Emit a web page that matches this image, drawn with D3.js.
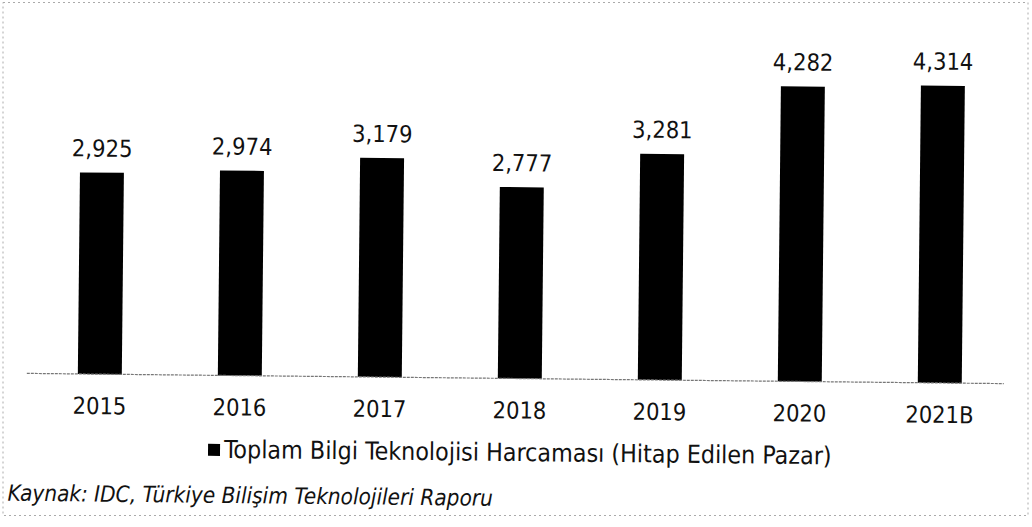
<!DOCTYPE html>
<html>
<head>
<meta charset="utf-8">
<script src="https://cdn.jsdelivr.net/npm/d3@7/dist/d3.min.js"></script>
<style>
  html, body { margin: 0; padding: 0; background: #fff; }
  svg { display: block; }
  text { font-family: "DejaVu Sans Condensed", "DejaVu Sans", sans-serif; font-stretch: condensed; fill: #111; }
</style>
</head>
<body>
<svg id="chart" width="1032" height="527"></svg>
<script>
const categories = ["2015", "2016", "2017", "2018", "2019", "2020", "2021B"];
const values = [2925, 2974, 3179, 2777, 3281, 4282, 4314];
const seriesName = "Toplam Bilgi Teknolojisi Harcaması (Hitap Edilen Pazar)";
const sourceText = "Kaynak: IDC, Türkiye Bilişim Teknolojileri Raporu";

const W = 1032, H = 527;
const svg = d3.select("#chart");
svg.append("rect").attr("width", W).attr("height", H).attr("fill", "#fff");

// dotted frame of the scanned page
svg.append("rect")
  .attr("x", 3).attr("y", 2.5).attr("width", 1025).attr("height", 513)
  .attr("fill", "none").attr("stroke", "#aaa").attr("stroke-width", 1)
  .attr("stroke-dasharray", "2,3");

// whole chart slightly rotated, like the scanned original
const g = svg.append("g").attr("transform", `rotate(0.6 ${W / 2} ${H / 2})`);

const baseY = 378.5;
const x = d3.scaleBand().domain(categories).range([31, 1011])
  .paddingInner(0.686).paddingOuter(0.343);
const y = d3.scaleLinear().domain([0, 5000]).range([baseY, baseY - 0.0689 * 5000]);

// bars
g.selectAll("rect.bar").data(values).join("rect")
  .attr("class", "bar")
  .attr("x", (d, i) => x(categories[i]))
  .attr("width", x.bandwidth())
  .attr("y", d => y(d))
  .attr("height", d => y(0) - y(d))
  .attr("fill", "#000");

// value labels
const fmt = d3.format(",");
g.selectAll("text.val").data(values).join("text")
  .attr("class", "val")
  .attr("x", (d, i) => x(categories[i]) + x.bandwidth() / 2)
  .attr("y", d => y(d) - 16)
  .attr("text-anchor", "middle")
  .attr("font-size", 23.5)
  .text(d => fmt(d));

// x axis
const axis = g.append("g").attr("transform", `translate(0,${baseY})`)
  .call(d3.axisBottom(x).tickSize(0).tickSizeOuter(0));
axis.select(".domain").attr("stroke", "#777").attr("stroke-width", 1.2)
  .attr("stroke-dasharray", "3,1").attr("d", "M28,0H1005");
axis.selectAll(".tick text")
  .attr("y", 40).attr("dy", 0)
  .attr("font-size", 23.5)
  .attr("font-family", "'DejaVu Sans Condensed', 'DejaVu Sans', sans-serif")
  .attr("fill", "#111");

// legend
const lg = g.append("g").attr("transform", "translate(210,461)");
lg.append("rect").attr("x", 0).attr("y", -14).attr("width", 12).attr("height", 12).attr("fill", "#000");
lg.append("text").attr("x", 16).attr("y", 0).attr("font-size", 24.8).text(seriesName);

// source
g.append("text").attr("x", 10).attr("y", 506)
  .attr("font-size", 22.4).attr("font-style", "italic")
  .text(sourceText);
</script>
</body>
</html>
